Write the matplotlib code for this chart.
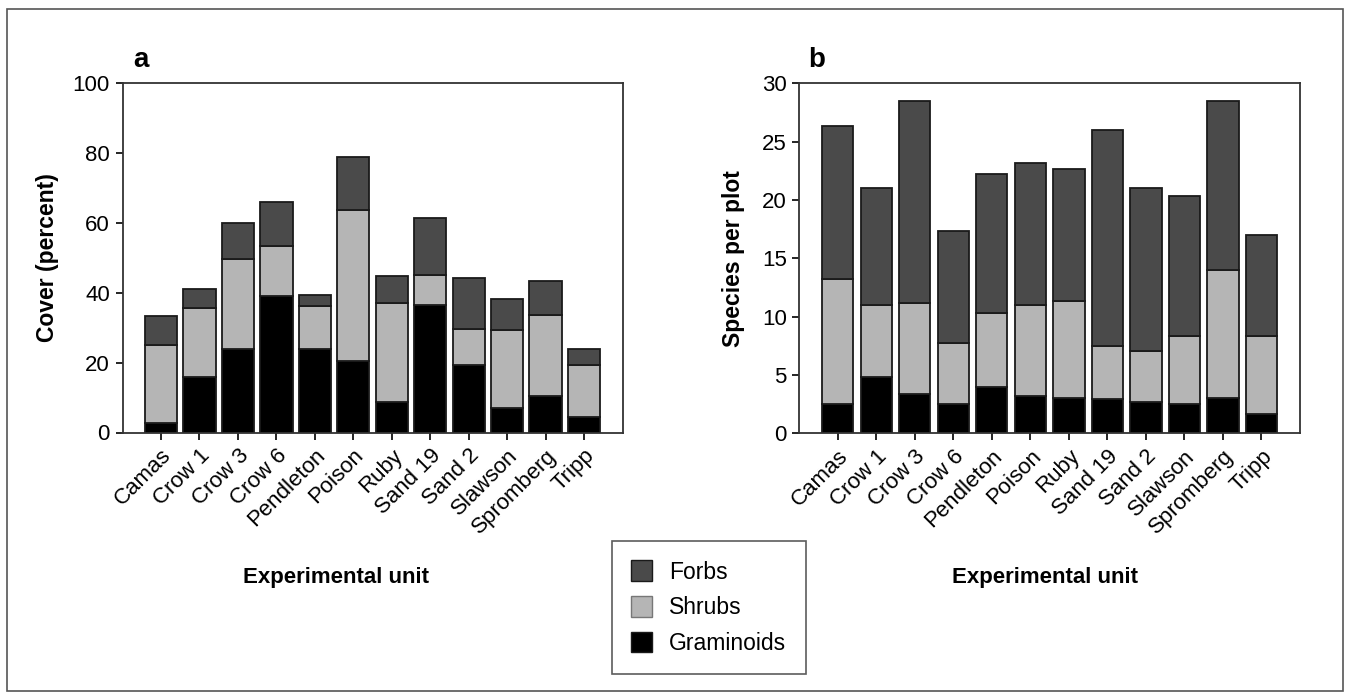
import matplotlib
matplotlib.use("Agg")
import matplotlib.pyplot as plt
from matplotlib.patches import Patch, Rectangle
import numpy as np

plt.rcParams['font.family'] = ['Liberation Sans', 'DejaVu Sans']

units = ["Camas", "Crow 1", "Crow 3", "Crow 6", "Pendleton", "Poison", "Ruby",
         "Sand 19", "Sand 2", "Slawson", "Spromberg", "Tripp"]

# Panel a: cover (percent)
cover_graminoids = [2.6, 15.9, 23.8, 39.0, 23.8, 20.3, 8.7, 36.4, 19.3, 7.1, 10.3, 4.5]
cover_shrubs = [22.3, 19.6, 25.9, 14.4, 12.3, 43.3, 28.4, 8.6, 10.4, 22.2, 23.2, 14.9]
cover_forbs = [8.4, 5.4, 10.1, 12.4, 3.1, 15.1, 7.5, 16.2, 14.4, 8.9, 9.9, 4.4]

# Panel b: species per plot
spp_graminoids = [2.5, 4.85, 3.33, 2.5, 4.0, 3.2, 3.05, 2.9, 2.7, 2.5, 3.05, 1.65]
spp_shrubs = [10.7, 6.15, 7.84, 5.2, 6.3, 7.8, 8.25, 4.6, 4.34, 5.8, 10.91, 6.65]
spp_forbs = [13.15, 10.0, 17.33, 9.65, 11.9, 12.2, 11.35, 18.5, 13.96, 12.0, 14.54, 8.7]

col_forbs = "#4a4a4a"
col_shrubs = "#b5b5b5"
col_gram = "#000000"
edge = "#1a1a1a"

fig = plt.figure(figsize=(13.51, 7.0), dpi=100)
W, H = 1351, 700

def ax_at(x0, x1, ytop, ybot):
    return fig.add_axes([x0 / W, (H - ybot) / H, (x1 - x0) / W, (ybot - ytop) / H])

axa = ax_at(122.5, 622.5, 82.7, 432.5)
axb = ax_at(799.3, 1300, 83.3, 433.3)

def draw(ax, g, s, f, ymax, yticks, bw):
    x = np.arange(len(units))
    g = np.array(g); s = np.array(s); f = np.array(f)
    kw = dict(width=bw, edgecolor=edge, linewidth=1.3)
    ax.bar(x, g, color=col_gram, **kw)
    ax.bar(x, s, bottom=g, color=col_shrubs, **kw)
    ax.bar(x, f, bottom=g + s, color=col_forbs, **kw)
    ax.set_xlim(-1.0, len(units))
    ax.set_ylim(0, ymax)
    ax.set_yticks(yticks)
    ax.set_xticks(x)
    ax.set_xticklabels(units, rotation=45, ha='right', rotation_mode='anchor', fontsize=16)
    ax.tick_params(axis='y', labelsize=16, length=5, width=1.2, direction='out', pad=4)
    ax.tick_params(axis='x', length=5, width=1.2, direction='out', pad=4)
    for sp in ax.spines.values():
        sp.set_linewidth(1.3)
        sp.set_color('#333333')

draw(axa, cover_graminoids, cover_shrubs, cover_forbs, 100, [0, 20, 40, 60, 80, 100], 0.84)
draw(axb, spp_graminoids, spp_shrubs, spp_forbs, 30, [0, 5, 10, 15, 20, 25, 30], 0.81)

axa.set_ylabel("Cover (percent)", fontsize=16.5, fontweight='bold', labelpad=10)
axb.set_ylabel("Species per plot", fontsize=16.5, fontweight='bold', labelpad=12)

fig.text(336 / W, 1 - 577 / H, "Experimental unit", fontsize=16, fontweight='bold',
         ha='center', va='center')
fig.text(1045 / W, 1 - 577 / H, "Experimental unit", fontsize=16, fontweight='bold',
         ha='center', va='center')

fig.text(133 / W, 1 - 60 / H, "a", fontsize=20, fontweight='bold', ha='left', va='center')
fig.text(808 / W, 1 - 60 / H, "b", fontsize=20, fontweight='bold', ha='left', va='center')

handles = [Patch(facecolor=col_forbs, edgecolor=edge, label="Forbs"),
           Patch(facecolor=col_shrubs, edgecolor='#777777', label="Shrubs"),
           Patch(facecolor=col_gram, edgecolor=edge, label="Graminoids")]
leg = fig.legend(handles=handles, loc='upper left',
                 bbox_to_anchor=(612 / W, 1 - 541 / H), fontsize=16.5,
                 frameon=True, fancybox=False, edgecolor='#333333',
                 handlelength=0.9, handleheight=1.0, borderpad=0.85,
                 labelspacing=0.55, handletextpad=0.75, borderaxespad=0)
leg.get_frame().set_linewidth(1.2)

fig.patches.append(Rectangle((7 / W, 1 - 691 / H), (1343 - 7) / W, (691 - 9) / H,
                             transform=fig.transFigure, fill=False,
                             edgecolor='#555555', linewidth=1.2))

fig.savefig("out.png", dpi=100)
